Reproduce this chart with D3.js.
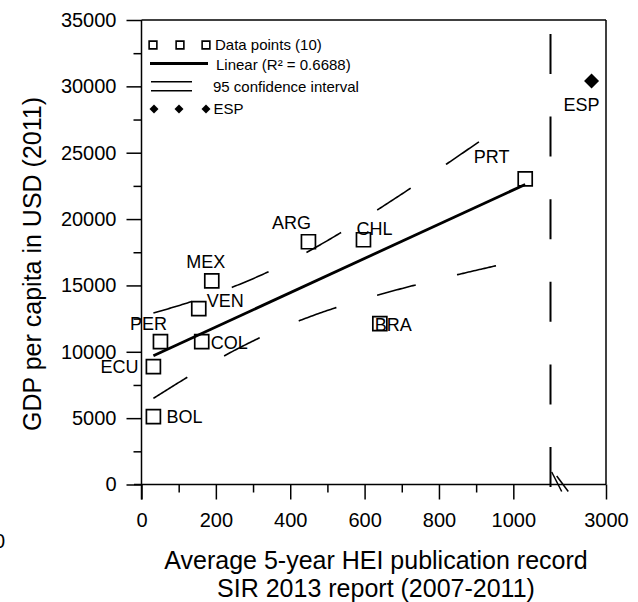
<!DOCTYPE html>
<html><head><meta charset="utf-8">
<script src="https://cdn.jsdelivr.net/npm/d3@7"></script>
<style>
body{margin:0;background:#fff}
text{font-family:"Liberation Sans",Arial,Helvetica,sans-serif;fill:#000}
</style>
</head><body>
<svg id="chart" width="638" height="602"></svg>
<script>
// ---------- data ----------
const countries    = ["BOL","ECU","PER","COL","VEN","MEX","ARG","CHL","BRA","PRT"];
const publications = [32, 32, 51, 162, 154, 189, 449, 597, 641, 1032];
const gdpPerCapita = [5120, 8880, 10760, 10760, 13250, 15350, 18290, 18440, 12120, 23030];
const refCountries = ["ESP"];
const refPublications = [2870];
const refGdp = [30410];
const yTickValues = [0,5000,10000,15000,20000,25000,30000,35000];
const yMinorTicks = [2500,7500,12500,17500,22500,27500,32500];
const xTickValues = [0,200,400,600,800,1000,3000];
const xMinorTicks = [100,300,500,700,900];
const legendLabels = ["Data points (10)","Linear (R\u00B2 = 0.6688)","95 confidence interval","ESP"];
const xTitleLines = ["Average 5-year HEI publication record","SIR 2013 report (2007-2011)"];
const yTitle = "GDP per capita in USD (2011)";
const tCritical = 2.306;      // t(0.975, df = 8)
const bandEnd = 995;          // confidence band drawn up to here
const breakStart = 1100, breakEnd = 2500;

// ---------- label placement (separate from data) ----------
const labelPos = {
  BOL:{dx:13,dy:0,a:"start"}, ECU:{dx:-15,dy:0,a:"end"}, PER:{dx:-12,dy:-18.5,a:"middle"},
  COL:{dx:9,dy:1,a:"start"}, VEN:{dx:8,dy:-8.5,a:"start"}, MEX:{dx:-6,dy:-19,a:"middle"},
  ARG:{dx:-17,dy:-19,a:"middle"}, CHL:{dx:11,dy:-11.5,a:"middle"}, BRA:{dx:13.5,dy:0.5,a:"middle"},
  PRT:{dx:-33.5,dy:-22,a:"middle"}, ESP:{dx:-10,dy:24,a:"middle"}
};

const svg = d3.select("#chart");
const x = d3.scaleLinear().domain([0, breakStart, breakEnd, 3000]).range([141.5, 550.5, 550.5, 606]);
const y = d3.scaleLinear().domain([0, 35000]).range([484.5, 20]);

// ---------- regression ----------
const n = publications.length;
const mx = d3.mean(publications), my = d3.mean(gdpPerCapita);
const sxx = d3.sum(publications, v => (v - mx) ** 2);
const sxy = d3.sum(publications.map((v, i) => (v - mx) * (gdpPerCapita[i] - my)));
const slope = sxy / sxx, intercept = my - slope * mx;
const sse = d3.sum(publications.map((v, i) => (gdpPerCapita[i] - (intercept + slope * v)) ** 2));
const se = Math.sqrt(sse / (n - 2));
const fit = v => intercept + slope * v;
const half = v => tCritical * se * Math.sqrt(1 / n + (v - mx) ** 2 / sxx);
const xmin = d3.min(publications), xmax = d3.max(publications);
const bandXs = d3.range(0, 201).map(i => xmin + (bandEnd - xmin) * i / 200);
const line = d3.line().x(d => x(d[0])).y(d => y(d[1]));

// ---------- axes ----------
const yAxis = svg.append("g").attr("transform", "translate(141.5,0)")
  .call(d3.axisLeft(y).tickValues(yTickValues).tickSize(15).tickPadding(10).tickFormat(d3.format("d")));
const yAxisMinor = svg.append("g").attr("transform", "translate(141.5,0)")
  .call(d3.axisLeft(y).tickValues(yMinorTicks).tickSize(8).tickFormat(""));
const xAxis = svg.append("g").attr("transform", "translate(0,484.5)")
  .call(d3.axisBottom(x).tickValues(xTickValues).tickSize(15).tickPadding(13).tickFormat(d3.format("d")));
const xAxisMinor = svg.append("g").attr("transform", "translate(0,484.5)")
  .call(d3.axisBottom(x).tickValues(xMinorTicks).tickSize(8).tickFormat(""));
[yAxis, yAxisMinor, xAxis, xAxisMinor].forEach(g => {
  g.select(".domain").remove();
  g.selectAll(".tick line").attr("stroke", "#000").attr("stroke-width", 1.5);
  g.selectAll("text").attr("font-size", 20).attr("font-family", null);
});
// frame lines
const frame = svg.append("g").attr("stroke", "#000").attr("stroke-width", 1.5).attr("fill", "none");
frame.append("line").attr("x1", 141.5).attr("x2", 141.5).attr("y1", y(35000)).attr("y2", 499.5);
frame.append("line").attr("x1", 134).attr("x2", x(3000)).attr("y1", y(0)).attr("y2", y(0));
frame.append("line").attr("x1", 141.5).attr("x2", x(3000)).attr("y1", y(35000)).attr("y2", y(35000));
frame.append("line").attr("x1", x(3000)).attr("x2", x(3000)).attr("y1", y(35000)).attr("y2", y(0));

// axis break: dashed separator + slashes
svg.append("line").attr("x1", x(breakStart)).attr("x2", x(breakStart)).attr("y1", 34).attr("y2", 489)
  .attr("stroke", "#000").attr("stroke-width", 2).attr("stroke-dasharray", "40,42.6");
svg.append("line").attr("x1", 551.7).attr("y1", 472).attr("x2", 561.7).attr("y2", 491.5).attr("stroke", "#000").attr("stroke-width", 1.5);
svg.append("line").attr("x1", 556.7).attr("y1", 476).attr("x2", 568.3).attr("y2", 491.5).attr("stroke", "#000").attr("stroke-width", 1.5);

// ---------- confidence band ----------
[+1, -1].forEach(sgn => {
  svg.append("path").datum(bandXs.map(v => [v, fit(v) + sgn * half(v)]))
    .attr("d", line).attr("fill", "none").attr("stroke", "#000").attr("stroke-width", 1.6)
    .attr("stroke-dasharray", "40,42.5");
});
// ---------- regression line ----------
svg.append("path").datum([[xmin, fit(xmin)], [xmax, fit(xmax)]])
  .attr("d", line).attr("fill", "none").attr("stroke", "#000").attr("stroke-width", 2.8);

// ---------- points ----------
const sq = d3.symbol().type(d3.symbolSquare).size(196)();
svg.append("g").selectAll("path").data(countries).join("path")
  .attr("d", sq)
  .attr("transform", (c, i) => `translate(${x(publications[i])},${y(gdpPerCapita[i])})`)
  .attr("fill", "none").attr("stroke", "#000").attr("stroke-width", 1.7);
const dia = d3.symbol().type(d3.symbolSquare).size(112)();
svg.append("g").selectAll("path").data(refCountries).join("path")
  .attr("d", dia)
  .attr("transform", (c, i) => `translate(${x(refPublications[i])},${y(refGdp[i])}) rotate(45)`)
  .attr("fill", "#000");

// ---------- labels ----------
const allLabels = countries.map((c, i) => ({c, px: x(publications[i]), py: y(gdpPerCapita[i])}))
  .concat(refCountries.map((c, i) => ({c, px: x(refPublications[i]), py: y(refGdp[i])})));
svg.append("g").selectAll("text").data(allLabels).join("text")
  .attr("x", d => d.px + labelPos[d.c].dx)
  .attr("y", d => d.py + labelPos[d.c].dy)
  .attr("dy", "0.36em")
  .attr("text-anchor", d => labelPos[d.c].a)
  .attr("font-size", 18)
  .text(d => d.c);

// ---------- legend ----------
const lg = svg.append("g");
const rowY = [45, 64.5, 86.5, 109];
const textX = [215, 216, 213, 213.5];
const lsq = d3.symbol().type(d3.symbolSquare).size(60)();
[153, 180, 206].forEach(cx => lg.append("path").attr("d", lsq).attr("transform", `translate(${cx},${rowY[0]})`)
  .attr("fill", "none").attr("stroke", "#000").attr("stroke-width", 1.6));
lg.append("line").attr("x1", 150).attr("x2", 208).attr("y1", 63.5).attr("y2", 63.5).attr("stroke", "#000").attr("stroke-width", 2.8);
[81.7, 90.7].forEach(ly => lg.append("line").attr("x1", 151).attr("x2", 192).attr("y1", ly).attr("y2", ly).attr("stroke", "#000").attr("stroke-width", 1.6));
const ldia = d3.symbol().type(d3.symbolSquare).size(40)();
[154, 179, 206].forEach(cx => lg.append("path").attr("d", ldia).attr("transform", `translate(${cx},${rowY[3]}) rotate(45)`).attr("fill", "#000"));
lg.selectAll("text").data(legendLabels).join("text")
  .attr("x", (d, i) => textX[i]).attr("y", (d, i) => rowY[i]).attr("dy", "0.36em")
  .attr("font-size", 15).text(d => d);

// ---------- titles ----------
svg.append("text").attr("transform", "translate(40.5,264) rotate(-90)")
  .attr("text-anchor", "middle").attr("font-size", 25).text(yTitle);
svg.append("g").selectAll("text").data(xTitleLines).join("text")
  .attr("x", 376).attr("y", (d, i) => 569 + i * 28)
  .attr("text-anchor", "middle").attr("font-size", 25).text(d => d);
// clipped stray glyph at the left edge
svg.append("text").attr("x", -6).attr("y", 548).attr("font-size", 20).text("0");
</script>
</body></html>
